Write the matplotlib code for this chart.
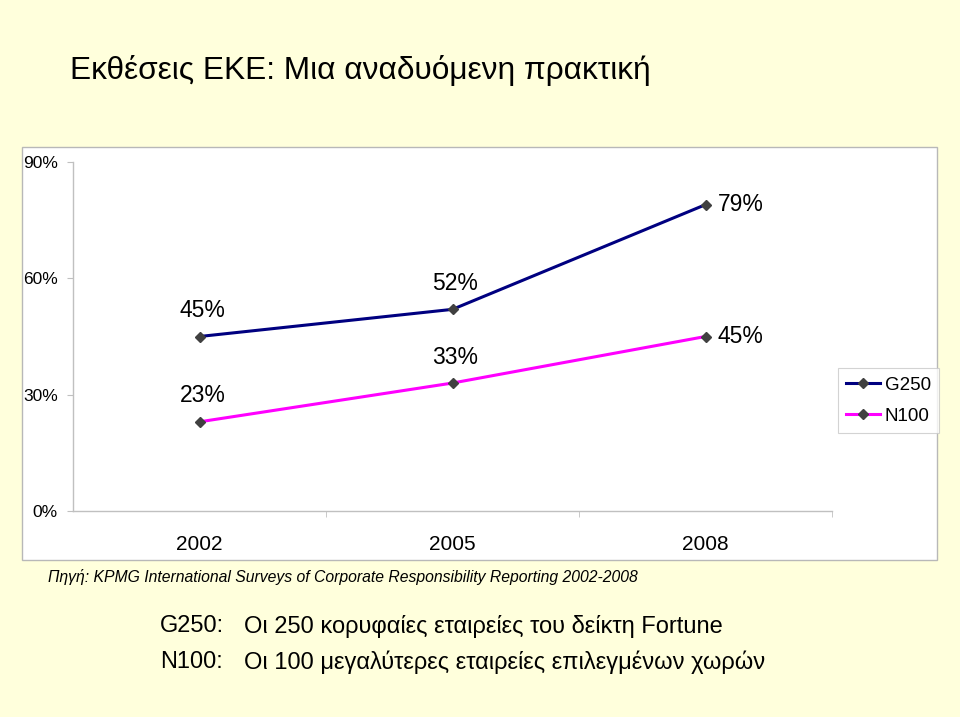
import matplotlib
matplotlib.use("Agg")
import matplotlib.pyplot as plt
from matplotlib.patches import Rectangle
from matplotlib.ticker import FixedLocator, PercentFormatter

plt.rcParams['font.family'] = ['Liberation Sans', 'DejaVu Sans']

years = ['2002', '2005', '2008']
g250 = [45, 52, 79]
n100 = [23, 33, 45]
series_names = ['G250', 'N100']
yticks = [0, 30, 60, 90]

title = 'Εκθέσεις ΕΚΕ: Μια αναδυόμενη πρακτική'
source = 'Πηγή: KPMG International Surveys of Corporate Responsibility Reporting 2002-2008'
notes_keys = ['G250:', 'N100:']
notes_vals = ['Οι 250 κορυφαίες εταιρείες του δείκτη Fortune',
              'Οι 100 μεγαλύτερες εταιρείες επιλεγμένων χωρών']

W, H = 960, 717
fig = plt.figure(figsize=(W / 100, H / 100), dpi=100)
fig.patch.set_facecolor('#FFFFDC')

def fx(px):
    return px / W

def fy(py):
    return 1 - py / H

# white chart area
fig.patches.append(Rectangle((fx(22), fy(560)), fx(915), 413 / H, transform=fig.transFigure,
                             facecolor='white', edgecolor='#B8B8B8', linewidth=1.0, zorder=-5))

ax = fig.add_axes([fx(73), fy(511), fx(832 - 73), (511 - 162) / H])
ax.set_facecolor('none')
x = list(range(len(years)))
ax.plot(x, g250, color='#000080', lw=2.2, marker='D', ms=5.5, mfc='#404040', mec='#404040',
        label=series_names[0], zorder=3)
ax.plot(x, n100, color='#FF00FF', lw=2.2, marker='D', ms=5.5, mfc='#404040', mec='#404040',
        label=series_names[1], zorder=3)

ax.set_xlim(-0.5, len(years) - 0.5)
ax.set_ylim(0, 90)
ax.set_yticks(yticks)
ax.yaxis.set_major_formatter(PercentFormatter(decimals=0))
ax.set_xticks(x)
ax.set_xticklabels(years)
ax.xaxis.set_minor_locator(FixedLocator([i + 0.5 for i in range(len(years))]))
ax.tick_params(axis='x', which='major', length=0, pad=17, labelsize=15)
ax.tick_params(axis='x', which='minor', length=4, color='#C0C0C0', direction='out')
ax.tick_params(axis='y', length=4, color='#C0C0C0', direction='out', pad=7, labelsize=12.5)
for s in ['top', 'right']:
    ax.spines[s].set_visible(False)
for s in ['left', 'bottom']:
    ax.spines[s].set_color('#C0C0C0')
    ax.spines[s].set_linewidth(1.0)

fs = 16.5
def label(xi, v, pos):
    if pos == 'above':
        ax.annotate(f'{v}%', (xi, v), xytext=(3, 26), textcoords='offset pixels',
                    ha='center', va='center', fontsize=fs)
    else:
        ax.annotate(f'{v}%', (xi, v), xytext=(12, 0), textcoords='offset pixels',
                    ha='left', va='center', fontsize=fs)

for i, v in enumerate(g250):
    label(i, v, 'right' if i == len(years) - 1 else 'above')
for i, v in enumerate(n100):
    label(i, v, 'right' if i == len(years) - 1 else 'above')

leg = fig.legend(loc='upper left', bbox_to_anchor=(fx(838), fy(368)), frameon=True,
                 fontsize=13.5, handlelength=1.8, handletextpad=0.25, borderpad=0.45,
                 labelspacing=0.75, fancybox=False, borderaxespad=0)
leg.get_frame().set_edgecolor('#C8C8C8')
leg.get_frame().set_linewidth(0.8)

fig.text(fx(70), fy(70), title, fontsize=22.8, va='center', ha='left')
fig.text(fx(48), fy(577), source, fontsize=11.3, style='italic', va='center', ha='left')
for k, (kk, vv) in enumerate(zip(notes_keys, notes_vals)):
    yy = fy(626 + 36 * k)
    fig.text(fx(160), yy, kk, fontsize=17, va='center', ha='left')
    fig.text(fx(244), yy, vv, fontsize=17, va='center', ha='left')

fig.savefig('out.png', dpi=100, facecolor=fig.get_facecolor())
